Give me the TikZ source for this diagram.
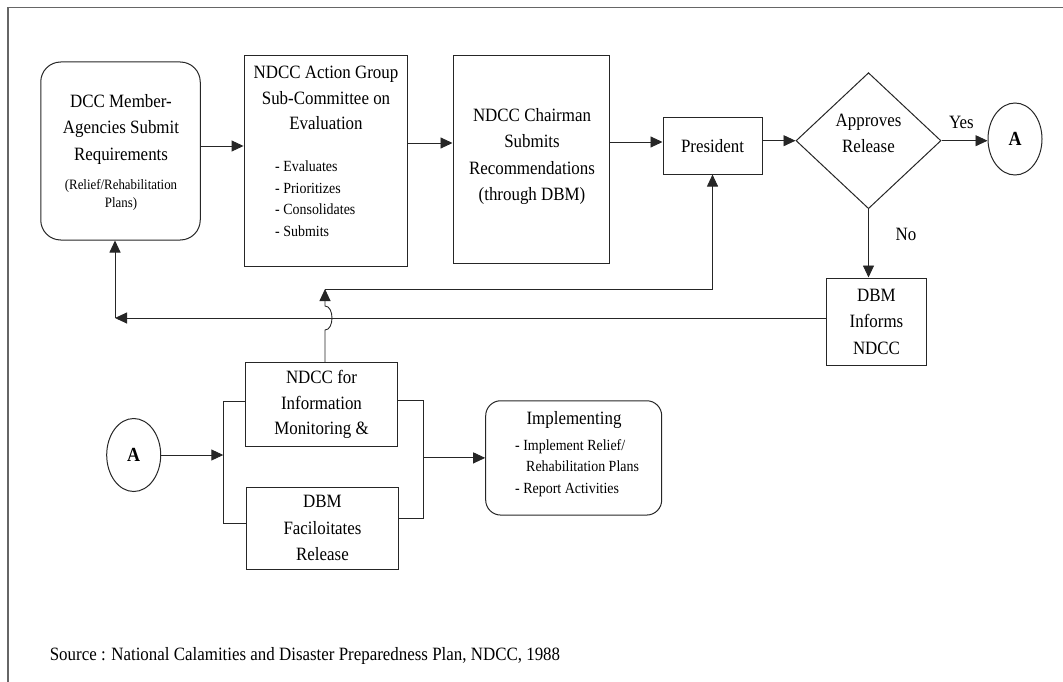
\documentclass[tikz,border=0pt]{standalone}
\usepackage{fontspec}
\setmainfont[FakeStretch=0.9]{Liberation Serif}
\usetikzlibrary{shapes.geometric,arrows.meta}
\tikzset{
  box/.style={draw=black!85,line width=1pt,inner sep=0pt},
  rbox/.style={box,rounded corners=20pt},
  big/.style={font=\fontsize{18.8}{26.5}\selectfont,align=center,inner sep=0pt},
  mid/.style={font=\fontsize{15.5}{21.5}\selectfont,align=left,inner sep=0pt},
  small/.style={font=\fontsize{14.3}{18.5}\selectfont,align=center,inner sep=0pt},
  link/.style={draw=black!85,line width=0.9pt},
  arr/.style={link,-{Triangle[length=12pt,width=11pt]}},
  conn/.style={box,ellipse,font=\fontsize{20}{20}\selectfont\bfseries}
}
\begin{document}
\begin{tikzpicture}[x=1pt,y=-1pt]
\useasboundingbox (0,0) rectangle (1063,682);
\draw[black!60,line width=1.5pt] (8,682)--(8,7.5)--(1063,7.5);
\node[rbox,minimum width=159.5pt,minimum height=178pt] (dcc) at (120.5,151) {};
\node[big] (dcct) at (121,129) {DCC Member-\\Agencies Submit\\Requirements};
\node[small] (dccs) at (121,195) {(Relief/Rehabilitation\\Plans)};
\node[box,minimum width=163.7pt,minimum height=210.3pt] (act) at (325.9,160.9) {};
\node[big,font=\fontsize{18.8}{25.5}\selectfont] (actt) at (326,98) {NDCC Action Group\\Sub-Committee on\\Evaluation};
\node[mid,anchor=west] (actl) at (275,198.5) {- Evaluates\\- Prioritizes\\- Consolidates\\- Submits};
\node[box,minimum width=156pt,minimum height=207.3pt] (chair) at (531,159.4) {};
\node[big,font=\fontsize{18.8}{26.3}\selectfont] (chairt) at (532,156.5) {NDCC Chairman\\Submits\\Recommendations\\(through DBM)};
\node[box,big,minimum width=99pt,minimum height=56.3pt] (pres) at (712.5,145.9) {President};
\node[box,diamond,minimum width=145pt,minimum height=136pt] (dec) at (868.5,140.7) {};
\node[big] (dect) at (868.5,133.4) {Approves\\Release};
\node[big] (yes) at (961.5,122) {Yes};
\node[big] (no) at (906,234) {No};
\node[conn,minimum width=54pt,minimum height=72pt] (ca) at (1015,139) {A};
\node[box,big,minimum width=100pt,minimum height=87pt] (dbm) at (876.5,321.5) {DBM\\Informs\\NDCC};
\node[conn,minimum width=54pt,minimum height=73pt] (cb) at (133.7,455) {A};
\node[box,big,font=\fontsize{18.8}{25.5}\selectfont,minimum width=151.6pt,minimum height=84pt] (info) at (321.5,404.7) {NDCC for\\Information\\Monitoring \&};
\node[box,big,minimum width=151.6pt,minimum height=82pt] (fac) at (322.5,528.3) {DBM\\Faciloitates\\Release};
\node[rbox,rounded corners=15pt,minimum width=176pt,minimum height=114.3pt] (impl) at (573.7,457.9) {};
\node[big] (implt) at (574,420) {Implementing};
\node[mid,anchor=west] (impll) at (515,467.8) {- Implement Relief/\\\hspace{11pt}Rehabilitation Plans\\- Report Activities};
\node[big,anchor=west] (src) at (49.6,656) {Source : National Calamities and Disaster Preparedness Plan, NDCC, 1988};
\coordinate (c1) at (325,289);
\coordinate (c2) at (115,318);
\coordinate (h1) at (325,330);
\coordinate (h2) at (325,306);
\coordinate (bl1) at (223.3,401);
\coordinate (bl2) at (223.3,523.3);
\coordinate (br1) at (423.3,400.5);
\coordinate (br2) at (423.3,518);
\draw[arr] (dcc.east |- 0,146) -- (act.west |- 0,146);
\draw[arr] (act.east |- 0,143) -- (chair.west |- 0,143);
\draw[arr] (chair.east |- 0,142) -- (pres.west |- 0,142);
\draw[arr] (pres.east |- dec.west) -- (dec.west);
\draw[arr] (dec.east) -- (dec.east -| ca.west);
\draw[arr] (dec.south) -- (dec.south |- dbm.north);
\draw[arr] (dbm.west |- c2) -- (c2);
\draw[arr] (c2) -- (c2 |- dcc.south);
\draw[arr] (info.north -| c1) -- (h1) .. controls ([xshift=9.3pt]h1) and ([xshift=9.3pt]h2) .. (h2) -- (c1);
\draw[arr] (c1) -- (c1 -| pres.south) -- (pres.south);
\draw[arr] (cb.east) -- (cb.east -| bl1);
\draw[link] (info.west |- bl1) -- (bl1) -- (bl2) -- (fac.west |- bl2);
\draw[link] (info.east |- br1) -- (br1) -- (br2) -- (fac.east |- br2);
\draw[arr] (impl.west -| br1) -- (impl.west);
\end{tikzpicture}
\end{document}
